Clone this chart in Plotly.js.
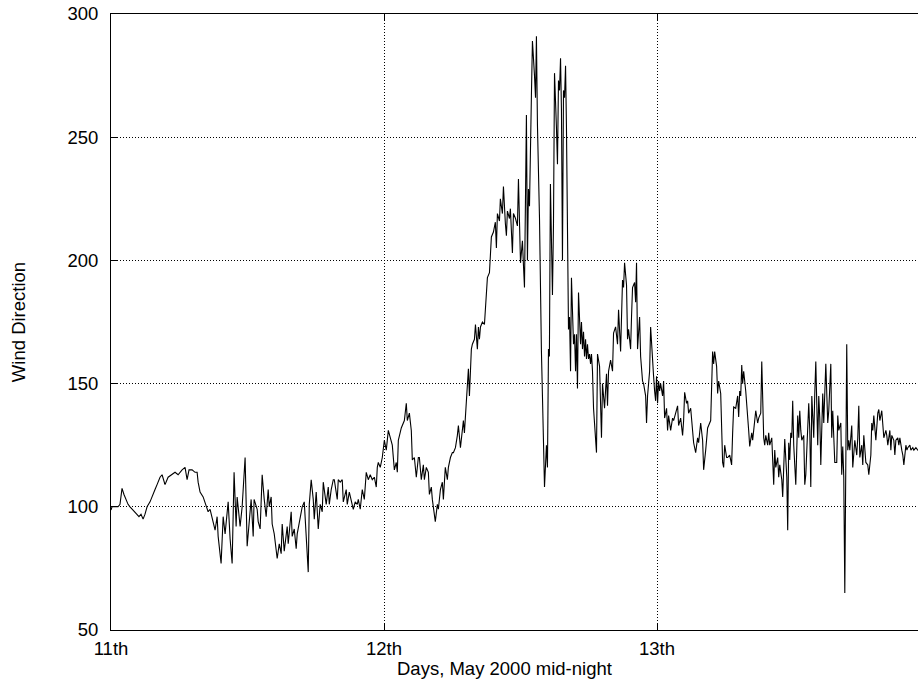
<!DOCTYPE html>
<html>
<head>
<meta charset="utf-8">
<script src="https://cdn.plot.ly/plotly-3.0.1.min.js"></script>
<style>
html, body { margin:0; padding:0; overflow:hidden; background:#fff; }
#chart { width:930px; height:680px; }
</style>
</head>
<body>
<div id="chart"></div>
<script>
// hours since 11 May 2000 mid-night
const hours = [
0.00,0.09,0.35,0.62,0.79,0.97,1.14,1.32,1.50,1.67,
1.85,2.11,2.29,2.46,2.64,2.82,2.99,3.17,3.43,3.70,
3.87,4.05,4.31,4.49,4.75,5.02,5.37,5.63,5.90,6.25,
6.51,6.69,6.86,7.13,7.39,7.57,7.66,7.83,8.10,8.27,
8.54,8.71,8.98,9.15,9.33,9.42,9.68,9.86,10.03,10.30,
10.47,10.65,10.82,11.00,11.09,11.35,11.53,11.79,11.97,12.14,
12.32,12.50,12.58,12.85,12.94,13.11,13.29,13.47,13.64,13.82,
13.91,14.08,14.17,14.35,14.61,14.79,14.96,15.05,15.23,15.49,
15.58,15.84,15.93,16.11,16.28,16.37,16.55,16.72,16.81,16.99,
17.16,17.34,17.43,17.60,17.78,17.87,18.04,18.22,18.39,18.57,
18.66,18.92,19.10,19.19,19.36,19.54,19.63,19.89,19.98,20.15,
20.33,20.42,20.68,20.77,20.95,21.12,21.30,21.47,21.65,21.74,
21.91,22.09,22.27,22.44,22.62,22.79,22.97,23.15,23.32,23.41,
23.50,23.67,23.85,24.03,24.20,24.38,24.64,24.73,24.91,25.08,
25.17,25.26,25.52,25.70,25.79,25.96,26.05,26.23,26.40,26.49,
26.67,26.84,27.02,27.11,27.28,27.46,27.55,27.72,27.90,27.99,
28.16,28.25,28.43,28.51,28.69,28.78,28.96,29.13,29.22,29.39,
29.57,29.66,29.84,30.01,30.10,30.28,30.45,30.54,30.72,30.89,
30.98,31.07,31.24,31.33,31.42,31.51,31.68,31.77,31.95,32.04,
32.21,32.30,32.39,32.48,32.65,32.83,32.91,33.09,33.27,33.35,
33.44,33.62,33.79,33.88,33.97,34.15,34.23,34.41,34.50,34.67,
34.76,34.85,35.03,35.11,35.29,35.38,35.56,35.73,35.82,36.00,
36.17,36.26,36.35,36.52,36.61,36.70,36.79,36.96,37.05,37.23,
37.32,37.40,37.49,37.67,37.76,37.84,37.93,38.02,38.11,38.28,
38.37,38.46,38.54,38.63,38.72,38.81,38.90,38.99,39.16,39.25,
39.34,39.43,39.52,39.60,39.69,39.78,39.87,39.96,40.04,40.13,
40.22,40.31,40.40,40.48,40.57,40.66,40.75,40.84,40.92,41.01,
41.10,41.19,41.28,41.36,41.45,41.54,41.63,41.72,41.80,41.89,
41.98,42.07,42.16,42.24,42.33,42.42,42.60,42.68,42.77,42.95,
43.12,43.21,43.39,43.56,43.65,43.74,43.92,44.09,44.18,44.36,
44.53,44.62,44.80,44.97,45.06,45.15,45.32,45.41,45.50,45.68,
45.76,45.85,46.03,46.12,46.20,46.29,46.47,46.56,46.73,46.82,
47.00,47.08,47.17,47.35,47.44,47.61,47.70,47.79,47.88,47.96,
48.05,48.14,48.23,48.32,48.49,48.58,48.67,48.84,48.93,49.02,
49.20,49.37,49.46,49.64,49.81,49.90,50.08,50.25,50.34,50.43,
50.60,50.69,50.78,50.96,51.13,51.22,51.40,51.57,51.66,51.84,
52.01,52.10,52.28,52.45,52.54,52.72,52.89,52.98,53.07,53.24,
53.33,53.42,53.60,53.77,53.86,53.95,54.12,54.21,54.39,54.56,
54.65,54.74,54.92,55.09,55.18,55.27,55.36,55.45,55.53,55.62,
55.80,55.97,56.06,56.15,56.33,56.41,56.50,56.68,56.85,56.94,
57.12,57.21,57.38,57.47,57.56,57.73,57.82,57.91,58.09,58.17,
58.26,58.35,58.44,58.61,58.70,58.79,58.97,59.05,59.14,59.23,
59.41,59.49,59.58,59.67,59.76,59.85,59.93,60.02,60.20,60.29,
60.37,60.46,60.55,60.64,60.73,60.90,60.99,61.08,61.25,61.34,
61.43,61.52,61.61,61.78,61.87,61.96,62.13,62.22,62.31,62.40,
62.57,62.66,62.84,63.01,63.10,63.28,63.36,63.45,63.63,63.80,
63.89,63.98,64.16,64.24,64.33,64.42,64.51,64.68,64.77,64.86,
64.95,65.12,65.21,65.39,65.56,65.65,65.74,65.83,66.00,66.09,
66.18,66.36,66.53,66.62,66.80,66.88,66.97,67.06,67.24,67.41,
67.50,67.59,67.76,67.85,67.94,68.12,68.20,68.29,68.47,68.56,
68.64,68.82,68.91,69.00,69.17,69.26,69.35,69.52,69.61,69.70,
69.88,69.97,70.05,70.23,70.32,70.49,70.58,70.76,70.93,71.10,
71.30
];

// wind direction (degrees)
const windDir = [
98.7,100,100,100,101,107.5,105,103,101,100,
99,98,97,96,97,95,97,100,102,105.5,
107,109,112,113,109,112,113,114,113,115,
116,111,115,115,114,114,110,106,104,102,
98,99,94,90.5,96,88,77,96,89,102,
87,77,114,92,104,92,100,120,84,95,
103,88,103,99,94,91,113,103,96,107,
100,104,93,89,79,85,81,93,82,92,
85,98,88,91,83,89,94,97,100,102,
88,73.5,101,111,103,95,106,91,101,98,
110,101,108,101,107,111,111,103,111,110,
111,102,107,101,106,103,99,102,101,103,
99,107,103,114,111,113,111,112,108,116,
118,116,120,127,123,131,126,125,115,118,
114,127,132,134,135,142,135,138,131,119,
120,112,120,120,111,117,111,116,114,105,
108,103,98,94,101,99,107,110,103,116,
111,116,120,122,122,124,129,133,124,130,
135,130,144,148,156,145,164,166,168,174,
164,173,168,173,175,174,181,193,195,203,
209.5,211.5,215.5,205,219,216,225,219,230,215,
210,220,217,221,203,219,217,214,233,199,
208,198,189,259,200,229,222,267,289,275,
266,291,255,217,177,163,145,126,108,125,
116,164,161,231,197,186,215,276,254,239,
273,269,282,261,200,269,266,279,254,214,
172,177,155,193,179,166,170,155,170,148,
187,174,166,175,164,171,161,168,160,166,
160,162,158,162,155,140,124,122,162,157,
128,150,140,154,141,155,159.5,155,170.5,173,
166,180,163,192,189,199,190,168,172,164,
177,189,191,183,199,164,177,161,151,150,
145,134,145,155,173,157,153,147,143,153,
142,151,147,150,145,151,136,140,131,137,
131,136,135,138,141,133,136,129,135,146.5,
142,143,138,140,131,126,122,128,126,134,
127,115,123,132,133,135,163,158,163,157,
146,151,146,118,116,125,120,120,121,117,
130,140.5,140,145,136.5,147,145,157.5,150,155,
147,138,131,124.5,130,127,131,139,134,136,
138,159,128,125,129,125,130,125,128,117,
109,123,116,120,112,117,111,104,113,127.5,
112,90.5,126,119,130,128,143,125,109,123,
137,128,139,131,127,129,109,113,135,142,
131,108,145,128,146,159,125,145,136,117,
146,134,158,134,139,158,128,139,118,118,
137,131,134,113,124.5,112,65,166,123,127,
123,133,116,127,121,128,141,120,125,117,
129,118,117,113,121,134,131,137,127,138,
139.5,135,139,134,128,131,129,125,131,123,
129,127,121,127,128,125,128,123,121,117,
125,123,124,125,123,124,123,124,123,123,
124
];

const dayTickHours = [0, 24, 48];
const dayTickLabels = ['11th', '12th', '13th'];
const dirTicks = [50, 100, 150, 200, 250, 300];
const xTitleText = 'Days, May 2000 mid-night';
const yTitleText = 'Wind Direction';

const font = { family: 'Liberation Sans, Arial, Helvetica, sans-serif', size: 18.5, color: '#000' };

const trace = {
  x: hours,
  y: windDir,
  type: 'scatter',
  mode: 'lines',
  line: { color: '#000', width: 1.1 },
  hoverinfo: 'skip'
};

const axisCommon = {
  showline: true, linecolor: '#000', linewidth: 1, mirror: 'ticks',
  ticks: 'inside', ticklen: 6, tickcolor: '#000', tickwidth: 1,
  showgrid: true, gridcolor: '#000', gridwidth: 1, griddash: '1px,2px',
  zeroline: false, tickfont: font, automargin: false
};

const layout = {
  width: 930, height: 680,
  margin: { l: 111, r: 0, t: 14, b: 50 },
  paper_bgcolor: '#fff', plot_bgcolor: '#fff',
  showlegend: false,
  font: font,
  xaxis: Object.assign({}, axisCommon, {
    range: [0, 72],
    tickmode: 'array', tickvals: dayTickHours, ticktext: dayTickLabels,
    ticklabelstandoff: 2
  }),
  yaxis: Object.assign({}, axisCommon, {
    range: [50, 300],
    tickmode: 'array', tickvals: dirTicks,
    ticklabelstandoff: 8,
    title: { text: yTitleText, font: font, standoff: 36 }
  }),
  annotations: [{
    text: xTitleText, font: font, showarrow: false,
    xref: 'paper', x: 0.481, xanchor: 'center',
    yref: 'paper', y: 0, yanchor: 'middle', yshift: -38
  }]
};

Plotly.newPlot('chart', [trace], layout, { displayModeBar: false, staticPlot: true });
</script>
</body>
</html>
